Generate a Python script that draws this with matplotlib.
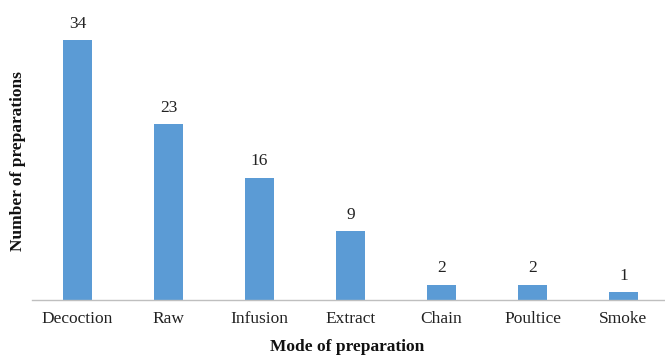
import matplotlib
matplotlib.use("Agg")
import matplotlib.pyplot as plt

categories = ["Decoction", "Raw", "Infusion", "Extract", "Chain", "Poultice", "Smoke"]
counts = [34, 23, 16, 9, 2, 2, 1]

plt.rcParams["font.family"] = ["Liberation Serif", "DejaVu Serif"]

W, H = 665, 357
fig = plt.figure(figsize=(W / 100, H / 100), dpi=100)
left, right, bottom, top = 32, 669, 300, 10
ax = fig.add_axes([left / W, (H - bottom) / H, (right - left) / W, (bottom - top) / H])

x = range(len(categories))
bars = ax.bar(x, counts, width=0.31, color="#5B9BD5")
for xi, v in zip(x, counts):
    ax.annotate(str(v), (xi, v), xytext=(0, 6), textcoords="offset points",
                ha="center", va="bottom", fontsize=12.5, color="#222222")

ax.set_xlim(-0.5, len(categories) - 0.5)
ax.set_ylim(0, (bottom - top) / 7.65)
ax.set_xticks(list(x))
ax.set_xticklabels(categories, fontsize=12.5, color="#222222")
ax.tick_params(axis="x", length=0, pad=8)
ax.set_yticks([])
for s in ["top", "right", "left"]:
    ax.spines[s].set_visible(False)
ax.spines["bottom"].set_color("#BFBFBF")
ax.spines["bottom"].set_linewidth(1.0)

fig.text(347 / W, 1 - 347 / H, "Mode of preparation", ha="center", va="center",
         fontsize=12.5, fontweight="bold", color="#111111")
fig.text(18 / W, 1 - 161 / H, "Number of preparations", ha="center", va="center",
         rotation=90, fontsize=12.5, fontweight="bold", color="#111111")

fig.savefig("out.png", dpi=100)
